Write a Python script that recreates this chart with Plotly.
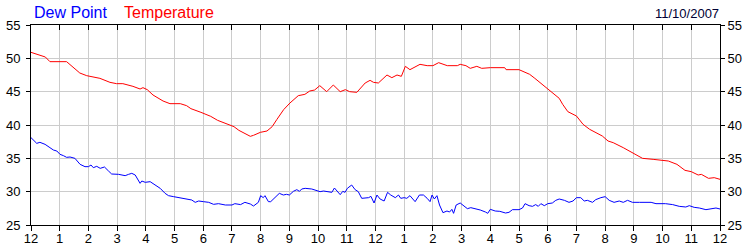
import plotly.graph_objects as go

temp_hours = [0, 0.3, 0.5, 0.66, 1.24, 1.7, 1.94, 2.4, 2.75, 2.98, 3.2, 3.55, 3.8, 3.9, 4.05, 4.25, 4.6, 4.84, 5.2,
              5.42, 5.57, 5.92, 6.26, 6.5, 6.84, 7.07, 7.24, 7.47, 7.64, 7.75, 7.99, 8.22, 8.4, 8.56, 8.8, 9.02,
              9.31, 9.54, 9.71, 9.88, 10.06, 10.3, 10.53, 10.77, 10.95, 11.1, 11.35, 11.64, 11.81, 11.93, 12.1,
              12.4, 12.57, 12.75, 12.9, 13.04, 13.2, 13.55, 13.8, 14.0, 14.2, 14.5, 14.85, 14.95, 15.15, 15.3,
              15.53, 15.7, 16.0, 16.5, 16.55, 17.0, 17.14, 17.37, 17.55, 17.8, 18.0, 18.23, 18.4, 18.52, 18.7,
              19.0, 19.1, 19.23, 19.46, 19.69, 19.9, 20.1, 20.28, 20.63, 20.97, 21.3, 21.67, 21.9, 22.2, 22.5,
              22.78, 23.0, 23.24, 23.35, 23.6, 23.8, 24.0]
temperature = [50.9, 50.5, 50.2, 49.5, 49.5, 47.8, 47.4, 47.0, 46.4, 46.2, 46.2, 45.8, 45.4, 45.6, 45.3, 44.5, 43.6,
               43.2, 43.2, 42.9, 42.45, 41.9, 41.3, 40.7, 40.15, 39.75, 39.2, 38.7, 38.3, 38.45, 38.9, 39.1, 39.75,
               40.8, 42.3, 43.3, 44.4, 44.6, 45.1, 45.25, 45.9, 45.0, 46.0, 45.0, 45.3, 45.0, 44.9, 46.3, 46.7,
               46.4, 46.3, 47.5, 47.1, 47.5, 47.3, 48.8, 48.3, 49.1, 48.9, 48.9, 49.35, 48.9, 48.9, 49.1, 48.9,
               48.5, 48.8, 48.5, 48.6, 48.6, 48.3, 48.3, 48.0, 47.6, 47.0, 46.1, 45.35, 44.6, 44.0, 43.1, 42.0,
               41.35, 40.85, 40.1, 39.35, 38.85, 38.35, 37.6, 37.35, 36.6, 35.85, 35.0, 34.85, 34.7, 34.6, 34.1,
               33.2, 33.0, 32.5, 32.6, 32.0, 32.1, 31.85]

dew_hours = [0, 0.08, 0.2, 0.31, 0.49, 0.66, 0.78, 0.9, 1.01, 1.13, 1.24, 1.36, 1.53, 1.71, 1.88, 2.0, 2.09, 2.17,
             2.29, 2.41, 2.56, 2.7, 2.81, 3.05, 3.28, 3.4, 3.51, 3.63, 3.8, 3.86, 3.98, 4.15, 4.33, 4.5, 4.67, 4.79,
             4.97, 5.14, 5.37, 5.6, 5.72, 5.84, 6.01, 6.19, 6.36, 6.53, 6.77, 7.0, 7.1, 7.3, 7.45, 7.64, 7.75, 7.92,
             8.0, 8.09, 8.15, 8.27, 8.35, 8.5, 8.65, 8.79, 8.9, 9.0, 9.14, 9.26, 9.35, 9.43, 9.55, 9.78, 9.95, 10.07,
             10.19, 10.36, 10.48, 10.57, 10.67, 10.77, 10.86, 10.94, 11.02, 11.17, 11.29, 11.4, 11.52, 11.64, 11.76,
             11.84, 11.95, 12.05, 12.16, 12.3, 12.42, 12.53, 12.69, 12.8, 12.88, 13.0, 13.09, 13.2, 13.38, 13.53,
             13.67, 13.8, 13.9, 13.97, 14.05, 14.14, 14.23, 14.35, 14.49, 14.58, 14.66, 14.72, 14.81, 14.95, 15.07,
             15.2, 15.32, 15.48, 15.65, 15.83, 15.91, 16.0, 16.17, 16.33, 16.53, 16.65, 16.77, 17.0, 17.12, 17.21,
             17.35, 17.47, 17.58, 17.67, 17.76, 17.88, 18.0, 18.16, 18.28, 18.4, 18.58, 18.74, 18.88, 19.0, 19.15,
             19.27, 19.38, 19.56, 19.67, 19.85, 20.0, 20.14, 20.31, 20.49, 20.63, 20.78, 20.95, 21.2, 21.6, 21.77,
             22.1, 22.35, 22.58, 22.81, 22.93, 23.1, 23.28, 23.51, 23.69, 23.86, 24.0]
dew_point = [38.1, 37.75, 37.25, 37.4, 37.1, 36.6, 36.25, 36.1, 35.6, 35.4, 35.15, 35.2, 35.0, 34.1, 33.75, 33.75,
             34.0, 33.6, 33.8, 33.5, 33.7, 33.1, 32.65, 32.6, 32.4, 32.6, 32.75, 32.5, 31.25, 31.6, 31.4, 31.5, 31.0,
             30.5, 29.75, 29.4, 29.25, 29.1, 28.9, 28.75, 28.4, 28.6, 28.5, 28.4, 28.1, 28.2, 28.0, 28.0, 28.2, 28.06,
             28.4, 28.15, 27.85, 28.4, 29.4, 29.1, 29.4, 28.5, 28.5, 29.1, 29.75, 29.5, 29.6, 29.5, 30.05, 30.3,
             30.05, 30.4, 30.5, 30.4, 30.2, 30.0, 30.1, 30.0, 29.9, 30.55, 30.0, 29.55, 30.05, 29.9, 30.5, 31.0,
             30.3, 30.0, 29.0, 29.1, 29.1, 29.3, 28.3, 29.5, 28.9, 28.6, 29.9, 29.5, 29.1, 29.5, 29.0, 29.1, 29.0,
             29.4, 28.5, 29.5, 29.5, 29.0, 28.5, 29.5, 28.9, 29.4, 28.0, 26.85, 27.1, 26.95, 27.35, 26.75, 28.0,
             28.3, 27.85, 27.45, 27.6, 27.45, 27.25, 26.95, 26.75, 27.35, 27.1, 27.05, 26.8, 26.9, 27.3, 27.3,
             27.55, 28.2, 27.9, 27.8, 28.06, 27.8, 28.2, 27.9, 28.2, 28.3, 28.7, 28.9, 28.7, 28.4, 28.6, 29.1,
             29.1, 28.6, 28.7, 28.4, 28.8, 29.1, 29.25, 28.7, 28.4, 28.6, 28.4, 28.7, 28.4, 28.4, 28.4, 28.2,
             28.2, 28.06, 27.8, 27.7, 27.9, 27.65, 27.55, 27.3, 27.4, 27.55, 27.4]

hour_ticks = list(range(0, 25))
hour_labels = ["12", "1", "2", "3", "4", "5", "6", "7", "8", "9", "10", "11",
               "12", "1", "2", "3", "4", "5", "6", "7", "8", "9", "10", "11", "12"]
y_ticks = [25, 30, 35, 40, 45, 50, 55]
date_label = "11/10/2007"

FONT = "Liberation Sans, Arial, sans-serif"
TICKCOL = "#000000"
GRID = "#cccccc"

fig = go.Figure()
fig.add_trace(go.Scatter(x=temp_hours, y=temperature, mode="lines",
                         line=dict(color="#ff0000", width=1), name="Temperature"))
fig.add_trace(go.Scatter(x=dew_hours, y=dew_point, mode="lines",
                         line=dict(color="#0000ff", width=1), name="Dew Point"))
# invisible trace to activate secondary axes
fig.add_trace(go.Scatter(x=[0, 24], y=[25, 55], xaxis="x2", yaxis="y2", mode="lines",
                         line=dict(width=0), opacity=0, hoverinfo="skip", showlegend=False))

fig.update_layout(
    width=750, height=250,
    margin=dict(l=31, r=30, t=25, b=25, autoexpand=False),
    paper_bgcolor="white", plot_bgcolor="white",
    showlegend=False,
    font=dict(family=FONT, size=13, color=TICKCOL),
    xaxis=dict(range=[0, 24], tickvals=hour_ticks, ticktext=hour_labels, automargin=False,
               showgrid=True, gridcolor=GRID, gridwidth=1, zeroline=False,
               showline=True, linecolor="black", linewidth=1,
               ticks="outside", ticklen=5, tickcolor="black", ticklabelstandoff=-4,
               tickfont=dict(family=FONT, size=13, color=TICKCOL)),
    xaxis2=dict(range=[0, 24], tickvals=hour_ticks, overlaying="x", side="top", automargin=False,
                showgrid=False, zeroline=False, showticklabels=False,
                showline=True, linecolor="black", linewidth=1,
                ticks="inside", ticklen=5, tickcolor="black"),
    yaxis=dict(range=[25, 55], tickvals=y_ticks, automargin=False,
               showgrid=True, gridcolor=GRID, gridwidth=1, zeroline=False,
               showline=True, linecolor="black", linewidth=1,
               ticks="outside", ticklen=4, tickcolor="black", ticklabelstandoff=3,
               tickfont=dict(family=FONT, size=13, color=TICKCOL)),
    yaxis2=dict(range=[25, 55], tickvals=y_ticks, overlaying="y", side="right", automargin=False,
                showgrid=False, zeroline=False,
                showline=True, linecolor="black", linewidth=1,
                ticks="outside", ticklen=4, tickcolor="black",
                tickfont=dict(family=FONT, size=13, color=TICKCOL)),
    annotations=[
        dict(text="Dew Point", xref="paper", yref="paper", x=0, y=1, xanchor="left", yanchor="bottom",
             xshift=1, yshift=2, showarrow=False, font=dict(family=FONT, size=16, color="#0000ff")),
        dict(text="Temperature", xref="paper", yref="paper", x=0, y=1, xanchor="left", yanchor="bottom",
             xshift=91, yshift=2, showarrow=False, font=dict(family=FONT, size=16, color="#ff0000")),
        dict(text=date_label, xref="paper", yref="paper", x=1, y=1, xanchor="right", yanchor="bottom",
             xshift=1, yshift=2, showarrow=False, font=dict(family=FONT, size=13, color="#000033")),
    ],
)

fig.write_html("out.html")
